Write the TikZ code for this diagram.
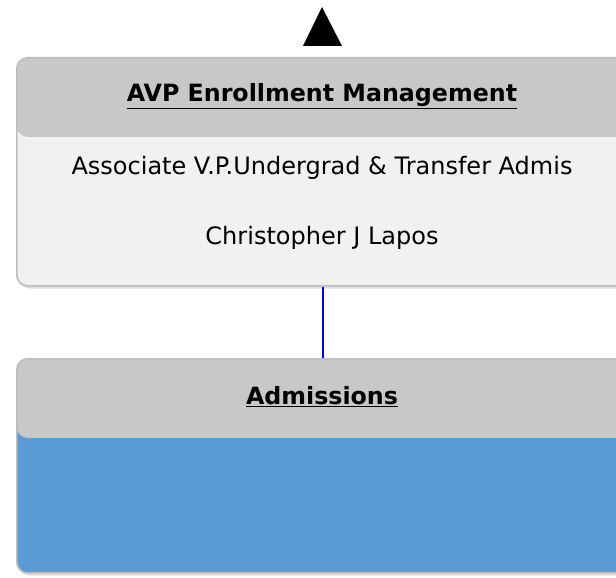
\documentclass[tikz,border=0pt]{standalone}
\usepackage{fontspec}
\setmainfont{DejaVu Sans}
\usetikzlibrary{shadows}
\definecolor{headgrey}{HTML}{C8C8C8}
\definecolor{bodygrey}{HTML}{F1F1F1}
\definecolor{bodyblue}{HTML}{5B9BD5}
\definecolor{rimgrey}{HTML}{BDBDBD}
\tikzset{
  unitbox/.style={draw=rimgrey, line width=1.3pt, rounded corners=8pt, anchor=north west,
    minimum width=459pt, drop shadow={opacity=0.25, shadow xshift=1.5pt, shadow yshift=-2pt},
    path picture={\fill[headgrey] (path picture bounding box.north west) rectangle
      ([yshift=-59.25pt]path picture bounding box.north east);}},
  headtext/.style={font=\fontsize{17.8}{21}\selectfont\bfseries},
  bodytext/.style={font=\fontsize{18}{21}\selectfont},
  link/.style={draw=blue, line width=1.5pt}
}
\begin{document}
\begin{tikzpicture}[x=0.75pt,y=-0.75pt]
\useasboundingbox (0,0) rectangle (616,577);
\clip (0,0) rectangle (616,577);
% upper unit
\node[unitbox, fill=bodygrey, minimum height=171pt] (avp) at (16,57) {};
\node[headtext] (avptitle) at (322,96) {\underline{AVP Enrollment Management}};
\node[bodytext] (avprole) at (322,168) {Associate V.P.Undergrad \& Transfer Admis};
\node[bodytext] (avpname) at (322,238) {Christopher J Lapos};
% lower unit
\node[unitbox, fill=bodyblue, minimum height=160.5pt] (adm) at (16,358) {};
\node[headtext] (admtitle) at (322,397) {\underline{Admissions}};
% parent marker
\fill (303,46) -- (322,7) -- (342,46) -- cycle;
\draw[link] (avp.south) -- (adm.north);
\end{tikzpicture}
\end{document}
